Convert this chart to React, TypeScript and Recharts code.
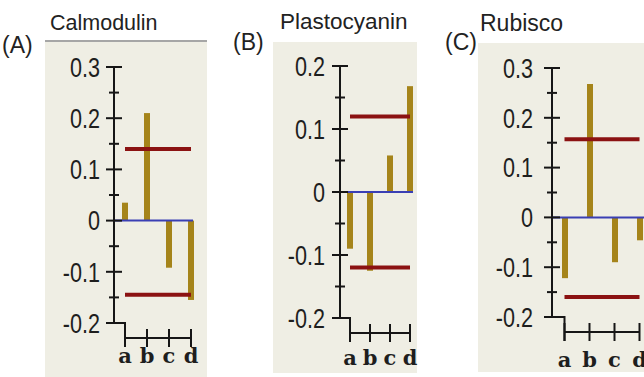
import React from 'react';
import { ComposedChart, Bar, XAxis, YAxis, ReferenceLine } from 'recharts';

// categories shared by all three panels
const categories = ['a', 'b', 'c', 'd'];

// bar values
const calmodulinValues = [0.035, 0.21, -0.092, -0.155];
const plastocyaninValues = [-0.09, -0.125, 0.058, 0.168];
const rubiscoValues = [-0.122, 0.268, -0.09, -0.046];

// red threshold lines (upper, lower)
const calmodulinLimits = [0.14, -0.145];
const plastocyaninLimits = [0.12, -0.12];
const rubiscoLimits = [0.157, -0.16];

// y ticks (every 0.05, labels on every 0.1)
const ticksWide = [-0.2, -0.15, -0.1, -0.05, 0, 0.05, 0.1, 0.15, 0.2, 0.25, 0.3];
const ticksNarrow = [-0.2, -0.15, -0.1, -0.05, 0, 0.05, 0.1, 0.15, 0.2];

const BAR = '#a5841a';
const RED = '#8b1212';
const BLUE = '#3a3fb4';
const AXIS = '#161616';
const BEIGE = '#efeee4';

const isMajor = (v: number) => Math.abs(v * 10 - Math.round(v * 10)) < 1e-6;
const fmt = (v: number) => (v === 0 ? '0' : v.toFixed(1));

const makeYTick = (labelGap: number) => (props: any) => {
  const { x, y, payload } = props;
  const v = payload.value as number;
  const major = isMajor(v);
  const len = major ? 8 : 5;
  return (
    <g>
      <line x1={x - len} x2={x + len} y1={y} y2={y} stroke={AXIS} strokeWidth={2} />
      {major && (
        // tall narrow digits like the original bitmap font
        <text
          transform={`translate(${x - labelGap},${y}) scale(0.8,1)`}
          dy="0.36em"
          textAnchor="end"
          fontSize={27}
          fill="#1e1e1e"
          fontFamily="'Liberation Sans', Arial, sans-serif"
        >
          {fmt(v)}
        </text>
      )}
    </g>
  );
};

const makeXTick = (axisX: number, band: number, labelDy: number) => (props: any) => {
  const { x, y, payload, index } = props;
  const lineY = y + 15;
  return (
    <g>
      {index === 0 && (
        <path d={`M${axisX},${y} H${x} V${lineY + 9}`} fill="none" stroke={AXIS} strokeWidth={2} />
      )}
      <line x1={x} x2={x} y1={lineY - 9} y2={lineY + 9} stroke={AXIS} strokeWidth={2} />
      {index < categories.length - 1 && (
        <line x1={x} x2={x + band} y1={lineY} y2={lineY} stroke={AXIS} strokeWidth={2} />
      )}
      <text
        x={x}
        y={y + labelDy}
        textAnchor="middle"
        fontSize={21}
        fontWeight="bold"
        fill="#1e1e1e"
        fontFamily="'DejaVu Serif', serif"
      >
        {payload.value}
      </text>
    </g>
  );
};

type PanelProps = {
  values: number[];
  limits: number[];
  ticks: number[];
  domain: [number, number];
  width: number;
  margin: { top: number; right: number; bottom: number; left: number };
  band: number;
  padRight: number;
  labelGap: number;
  labelDy: number;
};

const Panel = ({ values, limits, ticks, domain, width, margin, band, padRight, labelGap, labelDy }: PanelProps) => {
  const rows = categories.map((cat, i) => ({ cat, value: values[i] }));
  const axisX = margin.left + 60;
  return (
    <div style={{ position: 'absolute', left: 0, top: 0 }}>
      <ComposedChart width={width} height={377} data={rows} margin={margin}>
        <XAxis
          dataKey="cat"
          axisLine={false}
          tickLine={false}
          tickSize={0}
          tickMargin={0}
          height={45}
          interval={0}
          padding={{ left: 0, right: padRight }}
          tick={makeXTick(axisX, band, labelDy)}
        />
        <YAxis
          type="number"
          domain={domain}
          ticks={ticks}
          interval={0}
          width={60}
          axisLine={{ stroke: AXIS, strokeWidth: 2 }}
          tickLine={false}
          tickSize={0}
          tickMargin={0}
          tick={makeYTick(labelGap)}
        />
        <Bar dataKey="value" fill={BAR} barSize={6} isAnimationActive={false} />
        <ReferenceLine y={0} stroke={BLUE} strokeWidth={2} />
        {limits.map((t) => (
          <ReferenceLine
            key={t}
            segment={[{ x: 'a', y: t }, { x: 'd', y: t }]}
            stroke={RED}
            strokeWidth={4}
          />
        ))}
      </ComposedChart>
    </div>
  );
};

export default function App() {
  return (
    <div
      style={{
        position: 'absolute',
        left: 0,
        top: 0,
        width: 644,
        height: 377,
        overflow: 'hidden',
        background: '#fff',
      }}
    >
      <svg width={644} height={377} style={{ position: 'absolute', left: 0, top: 0 }}>
        <rect x={45} y={41} width={162} height={336} fill={BEIGE} />
        <line x1={45} x2={207} y1={41} y2={41} stroke="#a6a6a6" strokeWidth={2} />
        <rect x={273} y={42} width={144} height={331} fill={BEIGE} />
        <rect x={478} y={43} width={166} height={329} fill={BEIGE} />
        <g fontFamily="'Liberation Sans', Arial, sans-serif" fill="#222">
          <text x={50} y={30} fontSize={21.5}>Calmodulin</text>
          <text x={2} y={53} fontSize={23}>(A)</text>
          <text x={280} y={29} fontSize={22.5}>Plastocyanin</text>
          <text x={233} y={50} fontSize={23}>(B)</text>
          <text x={480} y={31} fontSize={23}>Rubisco</text>
          <text x={445} y={50} fontSize={23}>(C)</text>
        </g>
      </svg>
      <Panel
        values={calmodulinValues}
        limits={calmodulinLimits}
        ticks={ticksWide}
        domain={[-0.2, 0.3]}
        width={644}
        margin={{ top: 67, right: 451, bottom: 9, left: 54 }}
        band={22}
        padRight={-9}
        labelGap={14}
        labelDy={40}
      />
      <Panel
        values={plastocyaninValues}
        limits={plastocyaninLimits}
        ticks={ticksNarrow}
        domain={[-0.2, 0.2]}
        width={644}
        margin={{ top: 66, right: 231, bottom: 14, left: 280 }}
        band={20}
        padRight={-7}
        labelGap={15}
        labelDy={47}
      />
      <Panel
        values={rubiscoValues}
        limits={rubiscoLimits}
        ticks={ticksWide}
        domain={[-0.2, 0.3]}
        width={700}
        margin={{ top: 68, right: 48, bottom: 15, left: 492 }}
        band={25}
        padRight={0}
        labelGap={19}
        labelDy={50}
      />
    </div>
  );
}
